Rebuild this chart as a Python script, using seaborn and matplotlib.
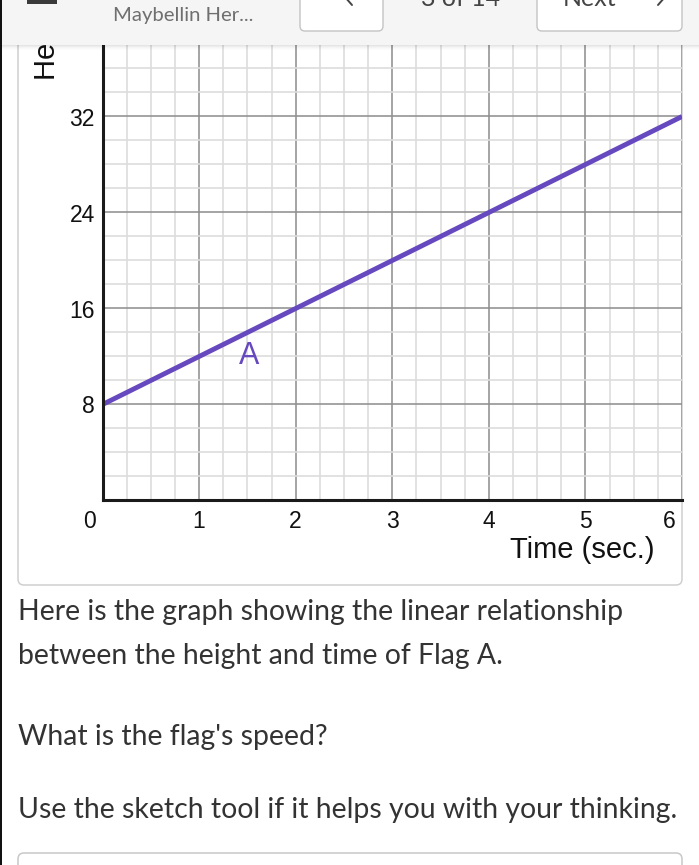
import numpy as np
import pandas as pd
import matplotlib
matplotlib.use("Agg")
import matplotlib.pyplot as plt
import matplotlib.transforms as mtransforms
from matplotlib.patches import FancyBboxPatch, Rectangle
from matplotlib.lines import Line2D
from matplotlib.ticker import MultipleLocator
import seaborn as sns

# ---------------- data ----------------
time_sec = [0, 6]
height_ft = [8, 32]
x_ticks = [0, 1, 2, 3, 4, 5, 6]
x_tick_labels = ["0", "1", "2", "3", "4", "5", "6"]
y_ticks = [8, 16, 24, 32]
y_tick_labels = ["8", "16", "24", "32"]
x_title = "Time (sec.)"
y_title = "Height (ft.)"
line_name = "A"
line_name_x = 1.52
line_name_y = 12
header_title = "Maybellin Her..."
page_text = "3 of 14"
next_text = "Next"
body_lines = [
    "Here is the graph showing the linear relationship",
    "between the height and time of Flag A.",
    "What is the flag's speed?",
    "Use the sketch tool if it helps you with your thinking.",
]

# ---------------- style ----------------
sns.set_theme(style="white")
plt.rcParams["font.family"] = ["Liberation Sans", "DejaVu Sans"]

W, H = 699, 865
fig = plt.figure(figsize=(W / 100, H / 100), dpi=100)
fig.patch.set_facecolor("white")
# pixel transform (origin top-left)
pt = mtransforms.Affine2D().scale(0.01, -0.01).translate(0, H / 100) + fig.dpi_scale_trans

PURPLE = "#6749bf"
BODY_FONT = ["Lato", "DejaVu Sans"]

# ---------------- card + chart ----------------
card = FancyBboxPatch((18, -20), 664, 605, boxstyle="round,pad=0,rounding_size=6",
                      transform=pt, facecolor="white", edgecolor="#cfcfcf", lw=1.1, zorder=0)
fig.add_artist(card)

x0_px, x6_px, y0_px = 102.5, 682.0, 500.5
ax = fig.add_axes([x0_px / W, 1 - y0_px / H, (x6_px - x0_px) / W, 480 / H])
ax.set_facecolor("white")

df = pd.DataFrame({"time": time_sec, "height": height_ft})
sns.lineplot(data=df, x="time", y="height", ax=ax, color=PURPLE, lw=3.5,
             solid_capstyle="butt", zorder=5)

ax.set_xlim(0, 6)
ax.set_ylim(0, 40)
ax.set_xticks(x_ticks)
ax.set_xticklabels(x_tick_labels)
ax.set_yticks(y_ticks)
ax.set_yticklabels(y_tick_labels)
ax.xaxis.set_minor_locator(MultipleLocator(0.25))
ax.yaxis.set_minor_locator(MultipleLocator(2))
ax.grid(which="minor", color="#dddddd", lw=1.2, zorder=0)
ax.grid(which="major", color="#8c8c8c", lw=1.1, zorder=1)
ax.set_axisbelow(True)
ax.tick_params(which="both", length=0)
ax.tick_params(axis="x", pad=6.6, labelsize=16.5, labelcolor="#111111")
ax.tick_params(axis="y", pad=5.6, labelsize=16.5, labelcolor="#111111")

# shift first and last x labels to the left like the original
for idx in (0, len(x_tick_labels) - 1):
    lab = ax.get_xticklabels()[idx]
    lab.set_transform(lab.get_transform() +
                      mtransforms.ScaledTranslation(-13 / 100, 0, fig.dpi_scale_trans))

for side in ("top", "right"):
    ax.spines[side].set_visible(False)
for side in ("left", "bottom"):
    ax.spines[side].set_color("#1a1a1a")
    ax.spines[side].set_linewidth(2.2)
    ax.spines[side].set_zorder(6)

ax.set_xlabel(x_title, fontsize=21, color="#111111", ha="right", va="center")
ax.xaxis.set_label_coords((655 - x0_px) / (x6_px - x0_px), -(550 - y0_px) / 480)
ax.set_ylabel(y_title, fontsize=21, color="#111111", rotation=90,
              rotation_mode="default", ha="center", va="bottom")
ax.yaxis.set_label_coords((47 - x0_px) / (x6_px - x0_px), (y0_px - 80) / 480)

ax.text(line_name_x, line_name_y, line_name, color=PURPLE, fontsize=22,
        ha="center", va="center", zorder=6)

# ---------------- header overlay ----------------
HB = 45
fig.add_artist(Rectangle((0, -5), W, HB + 5, transform=pt, facecolor="#f5f5f5",
                         edgecolor="none", zorder=20))
for i, a in enumerate([0.10, 0.07, 0.045, 0.025, 0.012]):
    fig.add_artist(Rectangle((0, HB + i), W, 1, transform=pt, facecolor="black",
                             alpha=a, edgecolor="none", zorder=20))
fig.add_artist(Rectangle((27, -2), 30, 5.5, transform=pt, facecolor="#3a3a3a",
                         edgecolor="none", zorder=21))
for (bx, bw) in [(300, 83), (537, 145)]:
    fig.add_artist(FancyBboxPatch((bx, -20), bw, 51, boxstyle="round,pad=0,rounding_size=5",
                                  transform=pt, facecolor="white", edgecolor="#c4c4c4",
                                  lw=1.0, zorder=21))
fig.add_artist(Line2D([352, 345, 352], [-11, -3, 5], transform=pt, color="#444444",
                      lw=1.4, zorder=22))
fig.add_artist(Line2D([658, 665, 658], [-11, -3, 5], transform=pt, color="#444444",
                      lw=1.4, zorder=22))
fig.text(113, 21, header_title, transform=pt, fontsize=14.6, color="#6f6f6f",
         family=BODY_FONT, va="baseline", ha="left", zorder=22)
fig.text(461, 6, page_text, transform=pt, fontsize=18, color="#444444",
         family=BODY_FONT, va="baseline", ha="center", zorder=22)
fig.text(563, 6, next_text, transform=pt, fontsize=18, color="#444444",
         family=BODY_FONT, va="baseline", ha="left", zorder=22)

# ---------------- body text ----------------
for txt, base in zip(body_lines, [620, 664, 745, 818]):
    fig.text(18, base, txt, transform=pt, fontsize=20.4, color="#333333",
             family=BODY_FONT, va="baseline", ha="left")

# answer box
fig.add_artist(FancyBboxPatch((18, 853), 664, 40, boxstyle="round,pad=0,rounding_size=6",
                              transform=pt, facecolor="white", edgecolor="#c8c8c8", lw=1.1))

# left dark border
fig.add_artist(Rectangle((0, 0), 1.8, H, transform=pt, facecolor="#111111",
                         edgecolor="none", zorder=30))

fig.savefig("out.png", dpi=100)
